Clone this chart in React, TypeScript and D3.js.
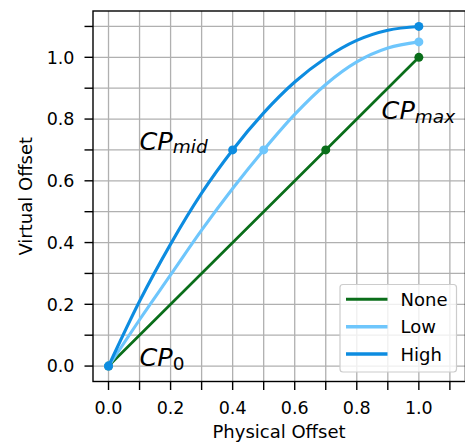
import React from 'react';
import * as d3 from 'd3';

// Values
const sampleX = [0, 0.1, 0.2, 0.3, 0.4, 0.5, 0.6, 0.7, 0.8, 0.9, 1.0];
const highY = [0, 0.21, 0.395, 0.56, 0.7, 0.82, 0.92, 0.998, 1.055, 1.088, 1.1];
const lowY = [0, 0.15, 0.295, 0.44, 0.575, 0.7, 0.815, 0.912, 0.985, 1.03, 1.05];
const noneX = [0, 0.7, 1.0];
const noneY = [0, 0.7, 1.0];

// Control points (markers)
const noneCP = { x: [0, 0.7, 1.0], y: [0, 0.7, 1.0] };
const lowCP = { x: [0, 0.5, 1.0], y: [0, 0.7, 1.05] };
const highCP = { x: [0, 0.4, 1.0], y: [0, 0.7, 1.1] };

const tickValues = [0, 0.1, 0.2, 0.3, 0.4, 0.5, 0.6, 0.7, 0.8, 0.9, 1.0, 1.1];
const tickLabels = [0, 0.2, 0.4, 0.6, 0.8, 1.0];

const seriesNames = ['None', 'Low', 'High'];
const COLORS: Record<string, string> = { None: '#0a6e1a', Low: '#6ec6fc', High: '#0d8ce0' };
const WIDTHS: Record<string, number> = { None: 2.7, Low: 3.1, High: 3.1 };

// Control point annotations (baseline positions in data coords)
const annotations = [
  { main: 'CP', sub: 'mid', subItalic: true, x: 0.1, y: 0.7 },
  { main: 'CP', sub: 'max', subItalic: true, x: 0.88, y: 0.8 },
  { main: 'CP', sub: '0', subItalic: false, x: 0.1, y: 0.0 },
];

const W = 465;
const H = 447;
const FONT = 'DejaVu Sans, sans-serif';

const App: React.FC = () => {
  const left = 93;
  const right = 465.4;
  const top = 11;
  const bottom = 381.5;

  const x = d3.scaleLinear().domain([-0.05, 1.15]).range([left, right]);
  const y = d3.scaleLinear().domain([-0.05, 1.15]).range([bottom, top]);

  const line = d3
    .line<[number, number]>()
    .x((d) => x(d[0]))
    .y((d) => y(d[1]))
    .curve(d3.curveMonotoneX);

  const series: Record<string, { pts: [number, number][]; cp: { x: number[]; y: number[] } }> = {
    None: { pts: noneX.map((v, i) => [v, noneY[i]]), cp: noneCP },
    Low: { pts: sampleX.map((v, i) => [v, lowY[i]]), cp: lowCP },
    High: { pts: sampleX.map((v, i) => [v, highY[i]]), cp: highCP },
  };

  const fmt = d3.format('.1f');
  const tickLen = 8.5;

  // legend box
  const lg = { x: 340, y: 284.5, w: 116.5, h: 87.5 };

  return (
    <svg
      width={W}
      height={H}
      style={{ position: 'absolute', left: 0, top: 0, background: '#fff' }}
      fontFamily={FONT}
    >
      <defs>
        <clipPath id="plot">
          <rect x={left} y={top} width={right - left} height={bottom - top} />
        </clipPath>
      </defs>

      {/* grid */}
      <g stroke="#b0b0b0" strokeWidth={1.3}>
        {tickValues.map((t) => (
          <line key={'gx' + t} x1={x(t)} x2={x(t)} y1={top} y2={bottom} />
        ))}
        {tickValues.map((t) => (
          <line key={'gy' + t} x1={left} x2={right} y1={y(t)} y2={y(t)} />
        ))}
      </g>

      {/* series */}
      <g clipPath="url(#plot)">
        {seriesNames.map((name) => {
          const s = series[name];
          return (
            <g key={name}>
              <path
                d={line(s.pts) || ''}
                fill="none"
                stroke={COLORS[name]}
                strokeWidth={WIDTHS[name]}
                strokeLinecap="square"
              />
              {s.cp.x.map((cx, i) => (
                <circle key={i} cx={x(cx)} cy={y(s.cp.y[i])} r={4.5} fill={COLORS[name]} />
              ))}
            </g>
          );
        })}
      </g>

      {/* annotations */}
      {annotations.map((a, i) => (
        <text key={i} x={x(a.x)} y={y(a.y)} fontSize={25.5} fontStyle="italic" fill="#000">
          {a.main}
          <tspan dy={3.5} fontSize={18.5} fontStyle={a.subItalic ? 'italic' : 'normal'}>
            {a.sub}
          </tspan>
        </text>
      ))}

      {/* spines */}
      <rect
        x={left}
        y={top}
        width={right - left}
        height={bottom - top}
        fill="none"
        stroke="#000"
        strokeWidth={1.4}
      />

      {/* ticks */}
      <g stroke="#000" strokeWidth={1.4}>
        {tickValues.map((t) => (
          <line key={'tx' + t} x1={x(t)} x2={x(t)} y1={bottom} y2={bottom + tickLen} />
        ))}
        {tickValues.map((t) => (
          <line key={'ty' + t} x1={left - tickLen} x2={left} y1={y(t)} y2={y(t)} />
        ))}
      </g>
      <g fontSize={17.5} fill="#000">
        {tickLabels.map((t) => (
          <text key={'lx' + t} x={x(t)} y={414.3} textAnchor="middle">
            {fmt(t)}
          </text>
        ))}
        {tickLabels.map((t) => (
          <text key={'ly' + t} x={74.5} y={y(t)} dy="0.36em" textAnchor="end">
            {fmt(t)}
          </text>
        ))}
      </g>

      {/* axis labels */}
      <text x={279} y={437.8} fontSize={18} textAnchor="middle" fill="#000">
        Physical Offset
      </text>
      <text
        transform={`translate(31.5,${(top + bottom) / 2}) rotate(-90)`}
        fontSize={18}
        textAnchor="middle"
        fill="#000"
      >
        Virtual Offset
      </text>

      {/* legend */}
      <g>
        <rect
          x={lg.x}
          y={lg.y}
          width={lg.w}
          height={lg.h}
          rx={3}
          fill="#fff"
          fillOpacity={0.8}
          stroke="#cccccc"
          strokeWidth={1.2}
        />
        {seriesNames.map((name, i) => {
          const ly = 299.3 + i * 27.4;
          return (
            <g key={name}>
              <line
                x1={346}
                x2={387.5}
                y1={ly}
                y2={ly}
                stroke={COLORS[name]}
                strokeWidth={WIDTHS[name] + 0.4}
              />
              <text x={400.5} y={ly} dy="0.36em" fontSize={18} fill="#000">
                {name}
              </text>
            </g>
          );
        })}
      </g>
    </svg>
  );
};

export default App;
